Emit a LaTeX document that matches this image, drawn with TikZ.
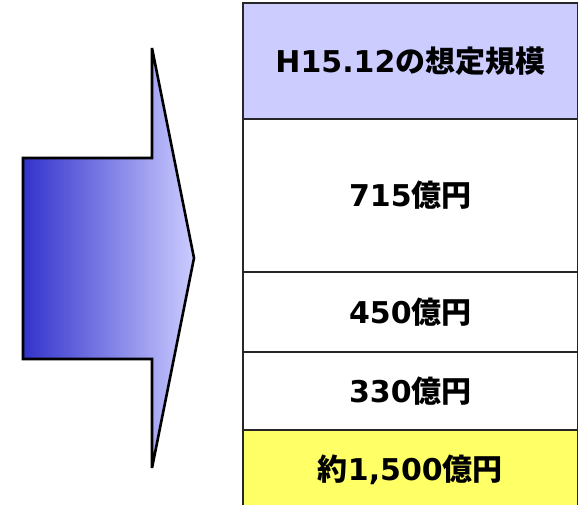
\documentclass[tikz,border=0pt]{standalone}
\usepackage{fontspec}
\setmainfont{DejaVu Sans}
\newfontfamily\cjk{Noto Sans CJK JP}[BoldFont={Noto Sans CJK JP Black}]
\begin{document}
\begin{tikzpicture}[x=1pt,y=-1pt,
  cell/.style={draw=black!85, line width=1.8pt, inner sep=0pt, anchor=north west, minimum width=335pt, font=\fontsize{30}{33}\selectfont\bfseries},
  bigarrow/.style={draw=black, line width=2.6pt, left color=blu, right color=hdr}]
\definecolor{hdr}{RGB}{204,204,255}
\definecolor{yel}{RGB}{255,255,102}
\definecolor{blu}{RGB}{51,51,204}
\useasboundingbox (0,0) rectangle (578,505);
\path[bigarrow] (23,158) -- (152,158) -- (152,48) -- (194,258) -- (152,468) -- (152,359) -- (23,359) -- cycle;
\node[cell, fill=hdr, minimum height=116pt] (h) at (242,2) {H15.12{\cjk の想定規模}};
\node[cell, fill=white, minimum height=153pt] (r1) at (242,118) {715{\cjk 億円}};
\node[cell, fill=white, minimum height=80pt] (r2) at (242,271) {450{\cjk 億円}};
\node[cell, fill=white, minimum height=78pt] (r3) at (242,351) {330{\cjk 億円}};
\node[cell, fill=yel, minimum height=80pt] (r4) at (242,429) {{\cjk 約}1,500{\cjk 億円}};
\end{tikzpicture}
\end{document}
